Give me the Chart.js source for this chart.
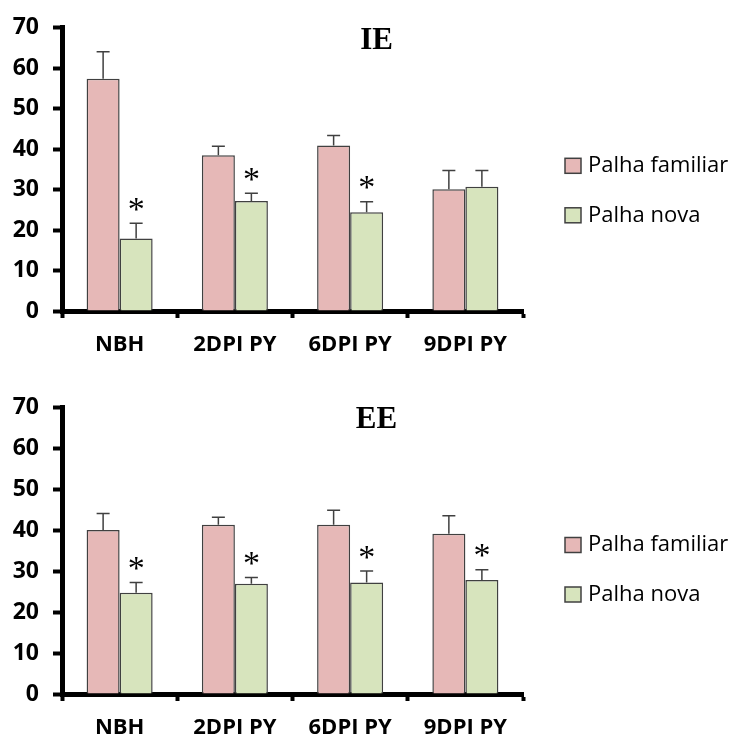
<!DOCTYPE html>
<html>
<head>
<meta charset="utf-8">
<script src="https://cdn.jsdelivr.net/npm/chart.js@4.4.1/dist/chart.umd.min.js"></script>
<style>
  html, body { margin: 0; padding: 0; background: #fff; }
  .panel { position: relative; width: 737px; height: 369px; }
</style>
</head>
<body>
<div class="panel"><canvas id="ieChart"></canvas></div>
<div class="panel"><canvas id="eeChart"></canvas></div>
<script>
// Groups on the x axis
const categories = ['NBH', '2DPI PY', '6DPI PY', '9DPI PY'];
const seriesNames = ['Palha familiar', 'Palha nova'];
const yTicks = [0, 10, 20, 30, 40, 50, 60, 70];

// IE panel: means and upper error (SE)
const ieFamiliar = [57.4, 38.5, 40.9, 30.1];
const ieFamiliarErr = [6.7, 2.2, 2.5, 4.6];
const ieNova = [17.9, 27.2, 24.4, 30.7];
const ieNovaErr = [3.8, 1.9, 2.6, 4.0];
const ieSignificant = [true, true, true, false];

// EE panel: means and upper error (SE)
const eeFamiliar = [40.0, 41.3, 41.3, 39.1];
const eeFamiliarErr = [4.0, 1.8, 3.5, 4.4];
const eeNova = [24.7, 26.9, 27.2, 27.8];
const eeNovaErr = [2.5, 1.5, 2.8, 2.5];
const eeSignificant = [true, true, true, true];

const pinkFill = '#e6b8b7';
const greenFill = '#d7e4bd';
const edge = '#404040';
const labelFont = "'Open Sans', sans-serif";

// Upper error whiskers, significance stars, panel title and legend
const decorations = {
  id: 'decorations',
  afterDatasetsDraw(chart, args, opts) {
    const ctx = chart.ctx;
    const yScale = chart.scales.y;
    const area = chart.chartArea;
    ctx.save();
    chart.data.datasets.forEach((ds, di) => {
      const meta = chart.getDatasetMeta(di);
      meta.data.forEach((bar, i) => {
        const top = yScale.getPixelForValue(ds.data[i] + ds.errors[i]);
        ctx.strokeStyle = edge;
        ctx.lineWidth = 1.5;
        ctx.beginPath();
        ctx.moveTo(bar.x, bar.y);
        ctx.lineTo(bar.x, top);
        ctx.moveTo(bar.x - 6.5, top);
        ctx.lineTo(bar.x + 6.5, top);
        ctx.stroke();
        if (ds.stars && ds.stars[i]) {
          ctx.fillStyle = '#000';
          ctx.font = "34px 'Liberation Serif'";
          ctx.textAlign = 'center';
          ctx.textBaseline = 'alphabetic';
          const m = ctx.measureText('*');
          const centerY = top - 19;
          const base = centerY + (m.actualBoundingBoxAscent - m.actualBoundingBoxDescent) / 2;
          ctx.fillText('*', bar.x, base);
        }
      });
    });

    // panel title
    ctx.fillStyle = '#000';
    ctx.font = "bold 31px 'Liberation Serif'";
    ctx.textAlign = 'center';
    ctx.textBaseline = 'alphabetic';
    ctx.fillText(opts.title, 376.5, area.top + 21);

    // legend
    ctx.font = "22px " + labelFont;
    ctx.textAlign = 'left';
    ctx.textBaseline = 'middle';
    chart.data.datasets.forEach((ds, di) => {
      const cy = area.top + 138 + di * 49.5;
      ctx.fillStyle = ds.backgroundColor;
      ctx.fillRect(565, cy - 7.5, 16, 15);
      ctx.strokeStyle = edge;
      ctx.lineWidth = 1.5;
      ctx.strokeRect(565, cy - 7.5, 16, 15);
      ctx.fillStyle = '#000';
      ctx.fillText(ds.label, 588, cy);
    });
    ctx.restore();
  }
};

function makePanel(canvasId, title, familiar, familiarErr, nova, novaErr, stars, topPad, xHeight) {
  return new Chart(document.getElementById(canvasId), {
    type: 'bar',
    data: {
      labels: categories,
      datasets: [
        {
          label: seriesNames[0], data: familiar, errors: familiarErr,
          backgroundColor: pinkFill, borderColor: edge, borderWidth: 1.5,
          categoryPercentage: 0.573, barPercentage: 1.0
        },
        {
          label: seriesNames[1], data: nova, errors: novaErr, stars: stars,
          backgroundColor: greenFill, borderColor: edge, borderWidth: 1.5,
          categoryPercentage: 0.573, barPercentage: 1.0
        }
      ]
    },
    options: {
      responsive: true,
      maintainAspectRatio: false,
      animation: false,
      layout: { padding: { top: topPad, right: 214, left: 0, bottom: 0 } },
      plugins: {
        legend: { display: false },
        tooltip: { enabled: false },
        decorations: { title: title }
      },
      scales: {
        x: {
          afterFit(scale) { scale.height = xHeight; },
          grid: {
            drawOnChartArea: false, drawTicks: true, offset: true,
            tickLength: 7, tickWidth: 4, tickColor: '#000'
          },
          border: { display: true, color: '#000', width: 5 },
          ticks: {
            color: '#000', padding: 14,
            font: { family: labelFont, weight: 'bold', size: 22 }
          }
        },
        y: {
          min: 0, max: 70,
          afterFit(scale) { scale.width = 62; },
          afterBuildTicks(scale) { scale.ticks = yTicks.map(v => ({ value: v })); },
          grid: {
            drawOnChartArea: false, drawTicks: true,
            tickLength: 9, tickWidth: 4, tickColor: '#000'
          },
          border: { display: true, color: '#000', width: 5 },
          ticks: {
            color: '#000', padding: 14,
            font: { family: labelFont, weight: 'bold', size: 23 }
          }
        }
      }
    },
    plugins: [decorations]
  });
}

makePanel('ieChart', 'IE', ieFamiliar, ieFamiliarErr, ieNova, ieNovaErr, ieSignificant, 23, 58);
makePanel('eeChart', 'EE', eeFamiliar, eeFamiliarErr, eeNova, eeNovaErr, eeSignificant, 38, 44);
</script>
</body>
</html>
